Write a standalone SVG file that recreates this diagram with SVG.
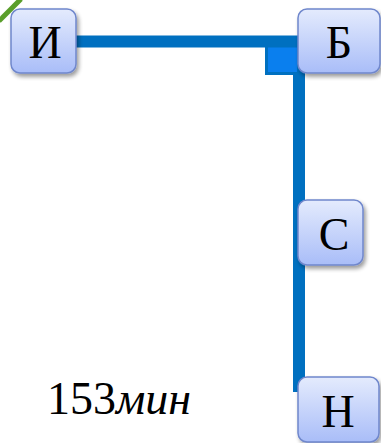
<svg xmlns="http://www.w3.org/2000/svg" width="381" height="443" viewBox="0 0 381 443">
<defs>
<linearGradient id="ng" x1="0" y1="0" x2="0" y2="1">
<stop offset="0" stop-color="#e4ebfd"/>
<stop offset="1" stop-color="#a9bdf8"/>
</linearGradient>
<filter id="sh" x="-20%" y="-20%" width="150%" height="150%">
<feGaussianBlur in="SourceAlpha" stdDeviation="2"/>
<feOffset dx="2" dy="3" result="b"/>
<feComponentTransfer><feFuncA type="linear" slope="0.4"/></feComponentTransfer>
<feMerge><feMergeNode/><feMergeNode in="SourceGraphic"/></feMerge>
</filter>
<style>
.node rect{fill:url(#ng);stroke:#6f87cc;stroke-width:1.5;filter:url(#sh)}
.node text, .lbl{font-family:"Liberation Serif","DejaVu Serif",serif;font-size:46px;fill:#000}
.node text{text-anchor:middle}
.edge{stroke:#0070c0;stroke-width:12;fill:none}
</style>
</defs>
<rect width="381" height="443" fill="#fff"/>
<line x1="-1" y1="21" x2="21" y2="-1" stroke="#5a9e2a" stroke-width="5"/>
<g id="connectors">
<line class="edge" x1="70" y1="41.5" x2="305" y2="41.5"/>
<line class="edge" x1="299" y1="41" x2="299" y2="392"/>
<rect x="266.5" y="46" width="32" height="27.5" fill="#0a7fee" stroke="#0070c0" stroke-width="3"/>
</g>
<g id="node-I" class="node"><rect x="11" y="9" width="65" height="64" rx="9"/><text x="45" y="58">И</text></g>
<g id="node-B" class="node"><rect x="298" y="9" width="82" height="64" rx="9"/><text x="339" y="58">Б</text></g>
<g id="node-S" class="node"><rect x="298" y="200" width="65" height="65" rx="9"/><text x="334" y="250">С</text></g>
<g id="node-N" class="node"><rect x="298" y="377" width="81" height="65" rx="9"/><text x="338" y="427">Н</text></g>
<text class="lbl" x="47" y="414">153<tspan font-style="italic">мин</tspan></text>
</svg>
